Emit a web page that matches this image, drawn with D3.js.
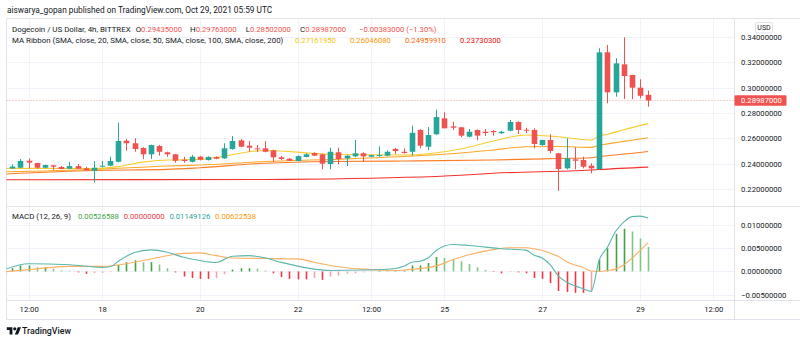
<!DOCTYPE html>
<html><head><meta charset="utf-8">
<script src="https://cdn.jsdelivr.net/npm/d3@7"></script>
<style>
html,body{margin:0;padding:0;background:#fff;}
svg{display:block;font-family:Roboto,"Noto Sans",sans-serif;}
</style></head><body>
<svg id="c" width="800" height="343"></svg>
<script>
// ---------- data ----------
const candleStart = Date.UTC(2021, 9, 16, 4);   // first 4h candle
const candleStepHours = 4;
const openP = [.2362,.2368,.2423,.2405,.2368,.2387,.2374,.2360,.2381,.2363,
 .2344,.2376,.2384,.2415,.2581,.2561,.2524,.2474,.2539,.2490,
 .2474,.2431,.2415,.2455,.2429,.2453,.2442,.2516,.2584,.2542,
 .2521,.2521,.2505,.2450,.2439,.2421,.2453,.2484,.2474,.2397,
 .2490,.2442,.2458,.2482,.2455,.2460,.2463,.2516,.2494,.2494,
 .2666,.2534,.2632,.2758,.2695,.2687,.2613,.2666,.2652,.2658,
 .2640,.2660,.2729,.2668,.2666,.2547,.2587,.2482,.2363,.2434,
 .2429,.2384,.2358,.3279,.2963,.3184,.3100,.3000,.29435];
const highP = [.2395,.2437,.2442,.2407,.2392,.2390,.2381,.2415,.2397,.2374,
 .2421,.2421,.2455,.2723,.2595,.2600,.2530,.2550,.2548,.2495,
 .2478,.2453,.2468,.2460,.2458,.2458,.2561,.2618,.2595,.2579,
 .2547,.2579,.2510,.2460,.2445,.2465,.2482,.2490,.2478,.2526,
 .2526,.2468,.2587,.2490,.2470,.2537,.2505,.2525,.2521,.2700,
 .2672,.2689,.2826,.2805,.2731,.2690,.2674,.2670,.2674,.2665,
 .2660,.2745,.2735,.2684,.2679,.2590,.2632,.2485,.2600,.2529,
 .2455,.2403,.3311,.3337,.3232,.3398,.3102,.3066,.29763];
const lowP = [.2360,.2363,.2363,.2360,.2363,.2348,.2355,.2358,.2358,.2346,
 .2253,.2370,.2380,.2410,.2502,.2494,.2437,.2437,.2463,.2455,
 .2408,.2408,.2410,.2425,.2425,.2435,.2438,.2510,.2530,.2494,
 .2494,.2490,.2415,.2429,.2420,.2418,.2450,.2460,.2355,.2355,
 .2395,.2381,.2450,.2415,.2450,.2455,.2458,.2476,.2480,.2463,
 .2521,.2508,.2626,.2750,.2666,.2608,.2608,.2584,.2618,.2621,
 .2635,.2655,.2634,.2642,.2521,.2540,.2482,.2186,.2355,.2355,
 .2363,.2324,.2350,.2877,.2929,.2911,.2908,.2916,.28502];
const closeP = [.2377,.2421,.2408,.2368,.2389,.2376,.2358,.2381,.2360,.2348,
 .2368,.2384,.2421,.2579,.2561,.2516,.2474,.2547,.2494,.2474,
 .2423,.2421,.2455,.2431,.2453,.2439,.2521,.2579,.2534,.2526,
 .2516,.2494,.2450,.2437,.2423,.2460,.2474,.2463,.2400,.2494,
 .2437,.2463,.2482,.2458,.2468,.2468,.2494,.2500,.2484,.2644,
 .2542,.2626,.2768,.2679,.2684,.2621,.2652,.2621,.2642,.2648,
 .2652,.2729,.2666,.2663,.2555,.2587,.2500,.2358,.2442,.2423,
 .2376,.2363,.3279,.2963,.3192,.3092,.3000,.2936,.28987];

// moving averages, read at candle indices: [index, value]
const ma20 = [[-1,.2363],[10,.2362],[13,.2377],[16,.2412],[19,.2429],[23,.2434],[31,.2504],[39,.2474],[48,.2468],[55,.2516],[59,.2579],[63,.2626],[67,.2613],[71,.2587],[72,.2618],[73,.2632],[75,.2668],[78,.27162]];
const ma50 = [[-1,.2336],[10,.2354],[19,.2381],[23,.2389],[31,.2417],[39,.2433],[48,.2456],[55,.2484],[59,.2508],[63,.2534],[67,.2535],[71,.2529],[72,.2546],[73,.2556],[78,.26046]];
const ma100 = [[-1,.2318],[10,.2346],[19,.2355],[23,.2368],[31,.2403],[39,.2417],[48,.2421],[59,.2429],[67,.2441],[71,.2447],[72,.2456],[73,.2462],[78,.2496]];
const ma200 = [[-1,.2273],[31,.2275],[39,.2279],[55,.2308],[59,.2324],[71,.2350],[72,.2354],[78,.2373]];
const maColors = ["#f6c309","#fb9800","#fb6500","#f60c0c"];
const maValues = ["0.27161950","0.26046080","0.24959910","0.23730300"];

// MACD
const macdHist = [.0007,.0013,.0013,.0009,.0009,.0006,.0002,.00014,-.0002,-.0005,
 -.00036,-.0003,-.00015,.0014,.002,.0024,.002,.002,.0015,.0007,
 -.0002,-.0011,-.0014,-.0016,-.0016,-.0014,-.0006,.0004,.0007,.0007,
 .0006,.0002,-.0004,-.0012,-.0016,-.0017,-.0017,-.0014,-.0018,-.0011,
 -.0009,-.0005,-.0004,-.0002,-.00015,.00014,.0001,.0001,.0002,.0013,
 .0013,.0018,.0031,.0029,.0027,.0022,.0016,.0009,.0003,-.0001,
 -.0004,-.00014,-.0002,-.0004,-.0014,-.0016,-.0025,-.0042,-.0044,-.0046,
 -.0046,-.0044,.0025,.005,.0081,.0092,.0086,.0071,.00527];
const macdLine = [[-1,.0004],[2,.00165],[7,.00144],[11,.00086],[12,.001],[13,.0022],[15,.0041],[17,.00465],[19,.00414],[21,.00306],[23,.00236],[25,.00193],[27,.00328],[29,.0034],[31,.00294],[33,.00195],[35,.00115],[37,.0005],[39,.0002],[43,.0003],[47,.00065],[48,.0011],[49,.002],[50,.0022],[51,.0029],[52,.0045],[54,.0058],[56,.0056],[60,.0049],[63,.0046],[64,.0035],[65,.0029],[66,.0014],[67,-.001],[68,-.0023],[69,-.0031],[70,-.0037],[71,-.0043],[72,.0025],[73,.0052],[74,.0086],[75,.0106],[76,.0118],[77,.0119],[78,.01149]];
const signalLine = [[-1,-.0001],[2,.0004],[7,.0011],[11,.0011],[15,.002],[17,.0027],[19,.0034],[21,.0039],[23,.0040],[25,.0034],[27,.0029],[31,.0028],[35,.0027],[37,.002],[39,.0013],[43,.0005],[47,.0002],[48,.0003],[52,.0012],[54,.0025],[56,.0036],[59,.0047],[61,.0051],[63,.0051],[64,.0049],[65,.0045],[66,.0039],[67,.0032],[68,.0021],[69,.0014],[70,.0009],[71,.0001],[72,.0000],[73,.0002],[74,.0005],[75,.0014],[76,.0028],[77,.0045],[78,.00623]];

// ticks
const priceTicks = [0.22,0.24,0.26,0.28,0.30,0.32,0.34];
const macdTicks = [-0.005,0,0.005,0.01];
const timeTicks = [Date.UTC(2021,9,16,12),Date.UTC(2021,9,18),Date.UTC(2021,9,20),Date.UTC(2021,9,22),Date.UTC(2021,9,23,12),Date.UTC(2021,9,25),Date.UTC(2021,9,27),Date.UTC(2021,9,29),Date.UTC(2021,9,30,12)];
const timeLabels = ["12:00","18","20","22","12:00","25","27","29","12:00"];
const lastPrice = 0.28987;

// ---------- layout ----------
const L = 6.5, R = 734.5, pTop = 18.5, pBot = 206.5, mBot = 300.5, aBot = 319.5;
const FS = 7.7, FT = 7.9, TXT = "#131722", GRID = "#f0f3fa", BORDER = "#e0e3eb";
const UP = "#26a69a", DN = "#ef5350";

const svg = d3.select("#c");
const tAt = i => new Date(candleStart + i*candleStepHours*3600e3);
const x = d3.scaleUtc().domain([new Date(Date.UTC(2021,9,18)), new Date(Date.UTC(2021,9,29))]).range([102, 640]);
const y = d3.scaleLinear().domain([0.22,0.34]).range([189,37]);
const ym = d3.scaleLinear().domain([-0.005,0.01]).range([294.7,225]);

const defs = svg.append("defs");
defs.append("clipPath").attr("id","cp").append("rect").attr("x",L).attr("y",pTop).attr("width",R-L).attr("height",pBot-pTop);
defs.append("clipPath").attr("id","cm").append("rect").attr("x",L).attr("y",pBot).attr("width",R-L).attr("height",mBot-pBot);

// header
svg.append("text").attr("x",7).attr("y",13).attr("font-size",8.3).attr("fill",TXT)
  .text("aiswarya_gopan published on TradingView.com, Oct 29, 2021 05:59 UTC");

// grid
const grid = svg.append("g");
grid.selectAll(".vg").data(timeTicks).join("line")
  .attr("x1",d=>Math.round(x(d))+0.5).attr("x2",d=>Math.round(x(d))+0.5)
  .attr("y1",pTop).attr("y2",mBot).attr("stroke",GRID);
grid.selectAll(".hg").data(priceTicks).join("line")
  .attr("x1",L).attr("x2",R).attr("y1",d=>Math.round(y(d))+0.5).attr("y2",d=>Math.round(y(d))+0.5).attr("stroke",GRID);
grid.selectAll(".mg").data(macdTicks).join("line")
  .attr("x1",L).attr("x2",R).attr("y1",d=>Math.round(ym(d))+0.5).attr("y2",d=>Math.round(ym(d))+0.5).attr("stroke",GRID);

// frame
const frame = svg.append("g").attr("stroke",BORDER).attr("fill","none");
frame.append("line").attr("x1",L).attr("x2",800).attr("y1",pTop).attr("y2",pTop);
frame.append("line").attr("x1",L).attr("x2",800).attr("y1",pBot).attr("y2",pBot).attr("stroke-width",1.2);
frame.append("line").attr("x1",L).attr("x2",800).attr("y1",mBot).attr("y2",mBot);
frame.append("line").attr("x1",L).attr("x2",800).attr("y1",aBot).attr("y2",aBot);
frame.append("line").attr("x1",L).attr("x2",L).attr("y1",pTop).attr("y2",aBot);
frame.append("line").attr("x1",R).attr("x2",R).attr("y1",pTop).attr("y2",aBot);

// price pane
const pp = svg.append("g").attr("clip-path","url(#cp)");
pp.append("line").attr("x1",L).attr("x2",R).attr("y1",Math.round(y(lastPrice))+0.5).attr("y2",Math.round(y(lastPrice))+0.5)
  .attr("stroke",DN).attr("stroke-opacity",0.55).attr("stroke-dasharray","1,2");

// MA ribbon
const maLine = d3.line().x(d=>x(tAt(d[0]))).y(d=>y(d[1])).curve(d3.curveMonotoneX);
[ma200, ma100, ma50, ma20].forEach((s,k)=>{
  pp.append("path").attr("d",maLine(s)).attr("fill","none")
    .attr("stroke",maColors[3-k]).attr("stroke-width",1.1).attr("stroke-opacity",0.85);
});

// candles
const idx = d3.range(openP.length);
const bw = 5.6;
const cg = pp.append("g");
cg.selectAll("line").data(idx).join("line")
  .attr("x1",i=>Math.round(x(tAt(i)))+0.5).attr("x2",i=>Math.round(x(tAt(i)))+0.5)
  .attr("y1",i=>y(highP[i])).attr("y2",i=>y(lowP[i]))
  .attr("stroke",i=>closeP[i]>=openP[i]?UP:DN).attr("stroke-width",1);
cg.selectAll("rect").data(idx).join("rect")
  .attr("x",i=>Math.round(x(tAt(i)))+0.5-bw/2).attr("width",bw)
  .attr("y",i=>y(Math.max(openP[i],closeP[i])))
  .attr("height",i=>Math.max(1,Math.abs(y(openP[i])-y(closeP[i]))))
  .attr("fill",i=>closeP[i]>=openP[i]?UP:DN);

// price axis
const pa = svg.append("g").attr("transform",`translate(${R},0)`)
  .call(d3.axisRight(y).tickValues(priceTicks).tickSize(0).tickPadding(6.5).tickFormat(d3.format(".8f")));
pa.select(".domain").remove();
pa.selectAll("text").attr("font-size",FS).attr("fill",TXT).attr("font-family","Roboto");

// last price label
svg.append("rect").attr("x",R).attr("y",y(lastPrice)-5.2).attr("width",52).attr("height",10.4).attr("rx",1).attr("fill",DN);
svg.append("text").attr("x",R+6.5).attr("y",y(lastPrice)).attr("dy","0.34em").attr("font-size",FS).attr("fill","#fff")
  .text(d3.format(".8f")(lastPrice));

// USD box
svg.append("rect").attr("x",755.5).attr("y",22.5).attr("width",17).attr("height",10.5).attr("rx",2)
  .attr("fill","#fff").attr("stroke",BORDER);
svg.append("text").attr("x",764).attr("y",27.8).attr("dy","0.34em").attr("text-anchor","middle").attr("font-size",7).attr("fill",TXT).text("USD");

// legend lines: laid out left to right, each item after the previous one
const leg = svg.append("g").attr("font-size",FS);
function row(yy, items){
  let cx = 12;
  items.forEach(it=>{
    const t = leg.append("text").attr("x",Math.max(cx, it.minX||0)).attr("y",yy).attr("dy","0.34em");
    it.parts.forEach(([s,c,fs])=>t.append("tspan").attr("fill",c).attr("font-size",fs||FS).text(s));
    cx = Math.max(cx, it.minX||0) + t.node().getComputedTextLength() + (it.gap||5);
  });
}
row(29, [
  {parts:[["Dogecoin / US Dollar, 4h, BITTREX",TXT,FT]], gap:5},
  {parts:[["O",TXT,FT],["0.29435000",DN]], minX:132, gap:8},
  {parts:[["H",TXT,FT],["0.29763000",DN]], minX:190, gap:8},
  {parts:[["L",TXT,FT],["0.28502000",DN]], minX:245.7, gap:8},
  {parts:[["C",TXT,FT],["0.28987000",DN]], minX:300, gap:8},
  {parts:[["−0.00383000 (−1.30%)",DN]], minX:359}
]);
row(40.5, [
  {parts:[["MA Ribbon (SMA, close, 20, SMA, close, 50, SMA, close, 100, SMA, close, 200)",TXT,FT]], gap:6},
  ...maValues.map((v,k)=>({parts:[[v,maColors[k]]], minX:295+k*55, gap:6}))
]);

// MACD pane
const mp = svg.append("g").attr("clip-path","url(#cm)");
const hw = 1.6;
mp.selectAll("rect").data(idx).join("rect")
  .attr("x",i=>Math.round(x(tAt(i)))+0.5-hw/2).attr("width",hw)
  .attr("y",i=>Math.min(ym(0),ym(macdHist[i])))
  .attr("height",i=>Math.abs(ym(macdHist[i])-ym(0)))
  .attr("fill",i=>{
    const v=macdHist[i], p=i>0?macdHist[i-1]:0;
    if(v>=0) return v>=p?"#43a047":"#81c784";
    return v<=p?"#f23645":"#f5a3a8";
  });
const ml = d3.line().x(d=>x(tAt(d[0]))).y(d=>ym(d[1])).curve(d3.curveMonotoneX);
mp.append("path").attr("d",ml(signalLine)).attr("fill","none").attr("stroke","#fbb062").attr("stroke-width",1.1);
mp.append("path").attr("d",ml(macdLine)).attr("fill","none").attr("stroke","#5ab7ae").attr("stroke-width",1.1);

const ma = svg.append("g").attr("transform",`translate(${R},0)`)
  .call(d3.axisRight(ym).tickValues(macdTicks).tickSize(0).tickPadding(6.5).tickFormat(d3.format(".8f")));
ma.select(".domain").remove();
ma.selectAll("text").attr("font-size",FS).attr("fill",TXT).attr("font-family","Roboto");

const macdLeg = [["0.00526588","#43a047"],["0.00000000","#f23645"],["0.01149126","#26a69a"],["0.00622538","#ff9800"]];
row(216, [
  {parts:[["MACD (12, 26, 9)",TXT,FT]], gap:5},
  ...macdLeg.map(([v,c],k)=>({parts:[[v,c]], minX:78+k*45.7, gap:4}))
]);

// time axis
const ta = svg.append("g").attr("transform",`translate(0,${mBot})`)
  .call(d3.axisBottom(x).tickValues(timeTicks.map(d=>new Date(d))).tickSize(0).tickPadding(6.5).tickFormat((d,i)=>timeLabels[i]));
ta.select(".domain").remove();
ta.selectAll("text").attr("font-size",FS).attr("fill",TXT).attr("font-family","Roboto");

// footer logo
const lg = svg.append("g").attr("transform","translate(6.8,325.6) scale(0.4)").attr("fill",TXT);
lg.append("path").attr("d","M14 22H7V11H0V4h14v18zM28 22h-8l7.5-18h8L28 22z");
lg.append("circle").attr("cx",20).attr("cy",8).attr("r",4);
svg.append("text").attr("x",22).attr("y",331).attr("dy","0.35em").attr("font-size",8.8).attr("font-weight",500).attr("fill",TXT).text("TradingView");
</script>
</body></html>
